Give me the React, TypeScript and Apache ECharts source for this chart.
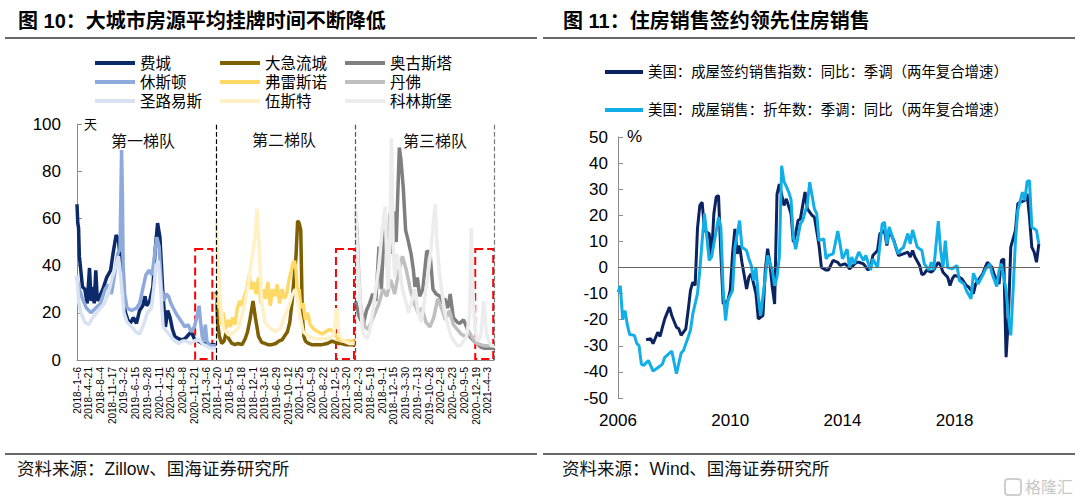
import React, { useEffect, useRef } from "react";
import * as echarts from "echarts";

// ---------- Left chart (图10) ----------
const weekLabels = [
  "2018--1--6", "2018--4--21", "2018--8--4", "2018--11--17", "2019--3--2", "2019--6--15",
  "2019--9--28", "2020--1--11", "2020--4--25", "2020--8--8", "2020--11--21", "2021--3--6",
  "2018--1--20", "2018--5--5", "2018--8--18", "2018--12--1", "2019--3--16", "2019--6--29",
  "2019--10--12", "2020--1--25", "2020--5--9", "2020--8--22", "2020--12--5", "2021--3--20",
  "2018--2--3", "2018--5--19", "2018--9--1", "2018--12--15", "2019--3--30", "2019--7--13",
  "2019--10--26", "2020--2--8", "2020--5--23", "2020--9--5", "2020--12--19", "2021--4--3",
];
const segmentStart = [0, 178, 356]; // week index where each tier starts
const tierNames = ["第一梯队", "第二梯队", "第三梯队"];

// Tier 1
const phlWeeks = [0,1,2,3,7,10,13,16,18,20,22,24,26,29,33,38,43,46,50,53,56,59,62,65,68,72,76,80,84,87,89,93,97,100,103,106,110,113,116,119,122,125,130,134,138,142,146,150,155,160,165,170,177];
const phlValues = [66,58,56,44,31,30,24,39,25,31,24,38,25,27,30,35,38,45,53,51,40,27,20,17,15.5,18,15.5,21,23,27,23,25,31,47,58,52,27,14,21,18,13,10,9,8.5,9,10.5,12,9,8,7,7,6.5,6.5];
const houWeeks = [0,3,7,12,18,24,30,36,40,44,48,52,55,57,58,59,61,64,70,76,80,84,88,92,96,99,102,105,108,111,114,117,120,123,126,130,134,138,142,146,150,153,156,158,160,162,164,166,170,177];
const houValues = [35,30,26,22,20,22,24,30,32,28,36,45,47,89,70,40,28,22,21,22,24,30,36,38,36,44,52,48,30,25,28,27,24,22,20,18,16,14,15,12,14,18,23,16,10,8,15,8,6,6];
const stlWeeks = [0,2,5,10,15,20,25,30,35,40,45,50,53,56,60,64,70,75,80,85,90,95,98,101,104,107,110,115,120,125,130,135,140,145,150,155,160,165,170,177];
const stlValues = [36,25,20,16,15,18,20,22,24,28,35,40,44,35,20,16,14,12,11,15,20,22,30,40,42,30,14,12,10,8,7,8,8,7,8,9,7,6,5,5];

// Tier 2
const grWeeks = [0,1,2,4,7,10,13,16,20,24,28,33,37,40,43,47,50,54,58,62,66,71,76,80,84,88,91,94,97,99,101,102,104,106,108,110,112,114,118,122,128,135,142,148,152,156,160,165,170,177];
const grValues = [29,22,15,10,7,8,12,9,7,6.5,7,6.5,9,12,17,25,18,10,7.5,7,6.5,6.5,7,8,8.5,10.5,12,16,25,33,40,44.5,59,58,55,19,10,8,7,6.5,6.5,6.5,7,8,7.5,7,7,6.5,6.5,6.5];
const freWeeks = [0,2,4,6,9,12,15,18,21,24,27,30,33,36,39,42,45,48,51,54,57,60,63,66,69,72,75,78,81,84,87,90,93,96,98,100,102,104,106,108,111,114,117,120,125,130,135,140,145,150,155,160,165,170,177];
const freValues = [28,22,26,15,20,13,17,14,18,15,22,25,23,27,30,36,30,33,28,35,24,30,26,33,23,30,27,32,24,30,26,28,34,38,41,42,38,27,30,22,24,17,20,15,13,12,11,12,13,12,9,8,8,8,8];
const worWeeks = [0,3,5,9,16,22,28,33,37,41,45,50,52,55,58,62,69,75,82,88,92,97,101,104,107,111,118,126,135,143,150,154,157,163,170,177];
const worValues = [58,40,25,13.5,10.5,11.5,13.5,19,25,32,42,53,64,47,25,16,13.5,12,13.5,19,22,27.5,30,25,19,12,10,9,9,9,10.5,22,10.5,8,7,7];

// Tier 3
const augWeeks = [0,5,10,14,18,22,26,30,33,37,41,44,47,49,52,56,58,61,64,67,71,74,76,79,82,86,91,95,99,103,108,111,114,118,121,125,130,133,138,142,146,150,155,160,165,170,177];
const augValues = [25,18,15,21,24,28,25,48,30,58,40,62,45,63,50,90,85,73,55,51,45,38,31,35,27,30,46,46,30,28,27,24,26,22,28,18,16,15.5,17,14,10,8.5,7,5.5,5,5,5];
const denWeeks = [0,2,4,6,9,12,16,20,25,30,35,40,45,50,55,60,65,70,75,80,85,90,95,100,105,110,115,120,125,130,135,140,145,150,155,160,165,170,177];
const denValues = [62,55,38,25,18,14,13,16,20,24,30,27,34,28,37,44,38,30,24,20,22,16,14,18,26,22,17,21,15,13,11,10,12,9,7,6.5,6,6,6];
const fcWeeks = [0,3,6,9,12,15,18,22,26,30,34,38,40,42,44,46,48,50,53,56,60,64,68,72,76,80,84,88,92,96,100,102,104,107,110,114,118,122,126,130,134,138,142,146,148,150,153,156,160,164,167,170,174,177];
const fcValues = [66,40,25,12,10,9,12,20,30,40,55,65,40,30,55,94,50,35,45,40,30,25,20,25,30,20,16,25,35,45,60,66,50,38,30,20,15,10,8,6,6,8,10,20,56,30,12,8,10,25,12,8,6,6];

// ---------- Right chart (图11) ----------
const yearLabels = ["2006", "2010", "2014", "2018"]; // every 48 months from Jan 2006
const pendingName = "美国：成屋签约销售指数：同比：季调（两年复合增速）";
const salesName = "美国：成屋销售：折年数：季调：同比（两年复合增速）";
const pendingMonths = [12,14,15,17,18,19,20,22,23,25,26,27,29,30,31,32,33,34,35,36,37,39,40,41,42,43,44,45,47,48,49,50,51,52,53,55,56,57,59,60,62,63,64,65,66,67,68,69,71,72,74,75,76,77,78,80,81,83,84,86,87,89,90,92,94,95,97,98,99,102,103,105,107,108,109,111,112,114,115,116,118,119,120,122,124,125,126,127,129,130,131,132,134,135,137,138,139,141,142,143,144,146,147,149,150,152,153,154,156,157,158,160,161,163,164,165,166,167,168,170,171,172,174,175,176,177,178,179,180];
const pendingValues = [-27.7,-27.3,-29.2,-24.8,-26.4,-22.9,-19.7,-15.2,-18.4,-22.9,-23.5,-26,-23.5,-16.5,-8.8,-5.6,-6.9,15,23.8,25,14.2,12.9,4,20.6,27,27.6,5,-14,-12.6,-8.8,5.2,14.8,5.2,8.4,2,-8.2,-3.7,-2.4,-10,-19.7,-18.4,-1,7.2,1.4,-7.5,-14,28,32,23.8,26.3,20.6,9.7,12.9,18,18.6,28.9,22.5,20,19.3,8.4,0,-1,-1,2.7,2,0.8,1.4,0.8,-0.5,2,2,1.4,-1,0,4.6,6.5,12.9,14.2,8.4,14.2,10.3,7.2,4.6,5.2,5.9,4,6.5,4,0.8,-2.7,-2.4,-1,-1.8,-1,2,0.8,-1.8,-3.7,-6.9,-4.3,-3,-3.7,-4.3,-6.9,-7.5,-10,-6.3,-5,-2.4,0,2,0,-3,-6.3,2.7,3.3,-34.4,-19,7.8,14.2,24.4,25,25.7,28.2,19.3,7.8,5.9,2,9];
const salesMonths = [0,1,2,3,4,5,7,8,9,10,11,13,15,17,19,20,23,25,27,28,30,31,32,34,35,36,37,39,40,42,43,44,45,46,47,49,50,52,53,55,56,57,58,59,60,61,63,64,66,67,68,69,70,71,73,74,75,76,78,79,81,82,84,85,86,88,89,90,92,94,95,96,98,99,100,101,103,105,106,108,109,111,113,114,115,116,118,120,121,122,124,125,126,128,130,131,133,134,135,137,138,139,140,141,143,145,146,148,149,151,152,154,156,157,159,160,162,163,164,166,167,168,169,170,171,173,174,175,176,177,179,180];
const salesValues = [-9.5,-7,-20,-16.5,-22,-25.7,-26,-29,-30,-37,-37.5,-35.6,-39.7,-38.4,-37,-34.4,-32,-40.7,-32.8,-31.8,-26.7,-24,-17.8,-10,-1,10.3,20.6,2.7,4,14,19.3,15.5,-8.8,-20.3,-12.6,-8.8,7.8,18,7.8,6.5,3.3,0.8,-5,0,-11,-18.4,-3.7,4.6,-1,-7,-3.7,4,39,33,29,26,11.6,7,16.7,18,24.4,32.7,22.5,20.6,10.3,11,3.3,4.6,5.2,14,9,3.3,7,0,4,1.4,5.9,2.7,4.6,-1,3.3,0,16.7,17.4,9,15.5,10,5.2,7,7.5,13,9,14.4,7.8,6.5,1.4,-1,2,-1,17.8,6.5,0,10.3,0,-0.5,0.8,-5,-6.3,-8.8,-12,-2.2,-6.3,-3,-1,1.4,-2.4,-7.3,-1,1.4,-8.8,-19,-26,-8.8,10.3,21.8,28.9,25.7,33,33.3,15.5,14.2,9];

const NUM = '"Liberation Sans", Arial, "Noto Sans CJK SC", sans-serif';
const CJK = '"Noto Sans CJK SC", "Liberation Sans", sans-serif';

const pairs = (offset: number, xs: number[], ys: number[]) => xs.map((x, i) => [offset + x, ys[i]]);

const leftSeriesDefs = [
  { name: "费城", seg: 0, x: phlWeeks, y: phlValues, color: "#0c2a6a" },
  { name: "休斯顿", seg: 0, x: houWeeks, y: houValues, color: "#8eaadc" },
  { name: "圣路易斯", seg: 0, x: stlWeeks, y: stlValues, color: "#d9e2f3" },
  { name: "大急流城", seg: 1, x: grWeeks, y: grValues, color: "#7f6000" },
  { name: "弗雷斯诺", seg: 1, x: freWeeks, y: freValues, color: "#ffd966" },
  { name: "伍斯特", seg: 1, x: worWeeks, y: worValues, color: "#fff0c6" },
  { name: "奥古斯塔", seg: 2, x: augWeeks, y: augValues, color: "#7f7f7f" },
  { name: "丹佛", seg: 2, x: denWeeks, y: denValues, color: "#bfbfbf" },
  { name: "科林斯堡", seg: 2, x: fcWeeks, y: fcValues, color: "#ececec" },
];

export default function App() {
  const ref = useRef<HTMLDivElement>(null);
  useEffect(() => {
    if (!ref.current) return;
    const chart = echarts.init(ref.current, null, { renderer: "svg" });
    const legendBase = {
      orient: "vertical",
      icon: "rect",
      itemWidth: 40,
      itemHeight: 4,
      itemGap: 3,
      padding: 0,
      textStyle: { fontSize: 15.5, lineHeight: 16, color: "#000", fontFamily: NUM },
      selectedMode: false,
    };
    const leftSeries: any[] = leftSeriesDefs.map((d) => ({
      name: d.name,
      type: "line",
      xAxisIndex: 0,
      yAxisIndex: 0,
      data: pairs(segmentStart[d.seg], d.x, d.y),
      showSymbol: false,
      symbol: "none",
      lineStyle: { width: 3.5, color: d.color },
      itemStyle: { color: d.color },
    }));
    leftSeries.push({
      name: "marks",
      type: "line",
      xAxisIndex: 0,
      yAxisIndex: 0,
      data: [],
      silent: true,
      z: 5,
      markLine: {
        silent: true,
        symbol: ["none", "none"],
        label: { show: false },
        lineStyle: { type: "dashed", width: 1.2 },
        data: [
          { xAxis: segmentStart[1], lineStyle: { color: "#000" } },
          { xAxis: segmentStart[2], lineStyle: { color: "#555" } },
          { xAxis: 533, lineStyle: { color: "#777" } },
        ],
      },
      markArea: {
        silent: true,
        itemStyle: { color: "rgba(0,0,0,0)", borderColor: "#ff0000", borderWidth: 2, borderType: "dashed" },
        data: [
          [{ xAxis: 151, yAxis: 47 }, { xAxis: 173, yAxis: 0.4 }],
          [{ xAxis: 331, yAxis: 47 }, { xAxis: 354, yAxis: 0.4 }],
          [{ xAxis: 509, yAxis: 47 }, { xAxis: 532, yAxis: 0.4 }],
        ],
      },
    });

    const option: any = {
      animation: false,
      backgroundColor: "#fff",
      grid: [
        { left: 77, top: 124, width: 417, height: 236 },
        { left: 618, top: 137, width: 422, height: 261 },
      ],
      legend: [
        { ...legendBase, left: 95, top: 55, data: ["费城", "休斯顿", "圣路易斯"] },
        { ...legendBase, left: 220, top: 55, data: ["大急流城", "弗雷斯诺", "伍斯特"] },
        { ...legendBase, left: 345, top: 55, data: ["奥古斯塔", "丹佛", "科林斯堡"] },
        {
          ...legendBase,
          left: 605,
          top: 64,
          itemWidth: 38,
          itemGap: 22,
          textStyle: { fontSize: 14.4, lineHeight: 16, color: "#000", fontFamily: NUM },
          data: [pendingName, salesName],
        },
      ],
      xAxis: [
        {
          type: "value",
          gridIndex: 0,
          min: 0,
          max: 533,
          interval: 15,
          axisLine: { show: true, lineStyle: { color: "#8c8c8c" } },
          axisTick: { show: false },
          splitLine: { show: false },
          axisLabel: {
            rotate: 90,
            fontSize: 10,
            color: "#000",
            margin: 7,
            fontFamily: NUM,
            showMaxLabel: false,
            formatter: (v: number) => {
              const k = v / 15;
              return Number.isInteger(k) && k < weekLabels.length ? weekLabels[k] : "";
            },
          },
        },
        {
          type: "value",
          gridIndex: 1,
          min: 0,
          max: 180.5,
          interval: 48,
          axisLine: { show: false },
          axisTick: { show: false },
          splitLine: { show: false },
          axisLabel: {
            fontSize: 17,
            color: "#000",
            margin: 14,
            fontFamily: NUM,
            showMaxLabel: false,
            formatter: (v: number) => {
              const k = v / 48;
              return Number.isInteger(k) && k < yearLabels.length ? yearLabels[k] : "";
            },
          },
        },
      ],
      yAxis: [
        {
          type: "value",
          gridIndex: 0,
          min: 0,
          max: 100,
          interval: 20,
          axisLine: { show: true, lineStyle: { color: "#8c8c8c" } },
          axisTick: { show: true, inside: true, length: 5, lineStyle: { color: "#8c8c8c" } },
          splitLine: { show: false },
          axisLabel: { fontSize: 17, color: "#000", margin: 16, fontFamily: NUM },
        },
        {
          type: "value",
          gridIndex: 1,
          min: -50,
          max: 50,
          interval: 10,
          axisLine: { show: true, lineStyle: { color: "#8c8c8c" } },
          axisTick: { show: true, inside: true, length: 5, lineStyle: { color: "#8c8c8c" } },
          splitLine: { show: false },
          axisLabel: { fontSize: 17, color: "#000", margin: 10, fontFamily: NUM },
        },
      ],
      series: [
        ...leftSeries,
        {
          name: "zero",
          type: "line",
          xAxisIndex: 1,
          yAxisIndex: 1,
          data: [],
          silent: true,
          markLine: {
            silent: true,
            symbol: ["none", "none"],
            label: { show: false },
            lineStyle: { type: "solid", width: 1, color: "#666" },
            data: [{ yAxis: 0 }],
          },
        },
        {
          name: pendingName,
          type: "line",
          xAxisIndex: 1,
          yAxisIndex: 1,
          data: pairs(0, pendingMonths, pendingValues),
          showSymbol: false,
          symbol: "none",
          lineStyle: { width: 3, color: "#0b2461" },
          itemStyle: { color: "#0b2461" },
        },
        {
          name: salesName,
          type: "line",
          xAxisIndex: 1,
          yAxisIndex: 1,
          data: pairs(0, salesMonths, salesValues),
          showSymbol: false,
          symbol: "none",
          lineStyle: { width: 3, color: "#12aee8" },
          itemStyle: { color: "#12aee8" },
        },
      ],
      graphic: [
        { type: "text", left: 18, top: 11, style: { text: "图 10：大城市房源平均挂牌时间不断降低", fontSize: 20, fontWeight: "bold", fill: "#000", fontFamily: NUM } },
        { type: "text", left: 563, top: 11, style: { text: "图 11：住房销售签约领先住房销售", fontSize: 20, fontWeight: "bold", fill: "#000", fontFamily: NUM } },
        { type: "line", shape: { x1: 5, y1: 38, x2: 537, y2: 38 }, style: { stroke: "#333", lineWidth: 1.5 } },
        { type: "line", shape: { x1: 543, y1: 38, x2: 1075, y2: 38 }, style: { stroke: "#333", lineWidth: 1.5 } },
        { type: "line", shape: { x1: 5, y1: 454, x2: 537, y2: 454 }, style: { stroke: "#333", lineWidth: 1.5 } },
        { type: "line", shape: { x1: 543, y1: 454, x2: 1075, y2: 454 }, style: { stroke: "#333", lineWidth: 1.5 } },
        { type: "text", left: 17, top: 460, style: { text: "资料来源：Zillow、国海证券研究所", fontSize: 17.5, fill: "#111", fontFamily: NUM } },
        { type: "text", left: 562, top: 460, style: { text: "资料来源：Wind、国海证券研究所", fontSize: 17.5, fill: "#111", fontFamily: NUM } },
        { type: "text", left: 84, top: 117, style: { text: "天", fontSize: 13, fill: "#000", fontFamily: CJK } },
        { type: "text", left: 627, top: 128, style: { text: "%", fontSize: 17, fill: "#000", fontFamily: NUM } },
        { type: "text", x: 143, y: 140, style: { text: tierNames[0], fontSize: 16, fill: "#111", fontFamily: CJK, align: "center", verticalAlign: "middle" } },
        { type: "text", x: 284, y: 139, style: { text: tierNames[1], fontSize: 16, fill: "#111", fontFamily: CJK, align: "center", verticalAlign: "middle" } },
        { type: "text", x: 435, y: 140, style: { text: tierNames[2], fontSize: 16, fill: "#111", fontFamily: CJK, align: "center", verticalAlign: "middle" } },
        { type: "rect", shape: { x: 1005, y: 479, width: 16, height: 16, r: 3 }, style: { fill: "none", stroke: "#cfcfcf", lineWidth: 2 } },
        { type: "text", left: 1025, top: 478, style: { text: "格隆汇", fontSize: 16, fill: "#c8c8c8", fontFamily: CJK } },
      ],
    };
    chart.setOption(option);
    return () => chart.dispose();
  }, []);
  return <div ref={ref} style={{ position: "absolute", left: 0, top: 0, width: 1080, height: 501 }} />;
}
